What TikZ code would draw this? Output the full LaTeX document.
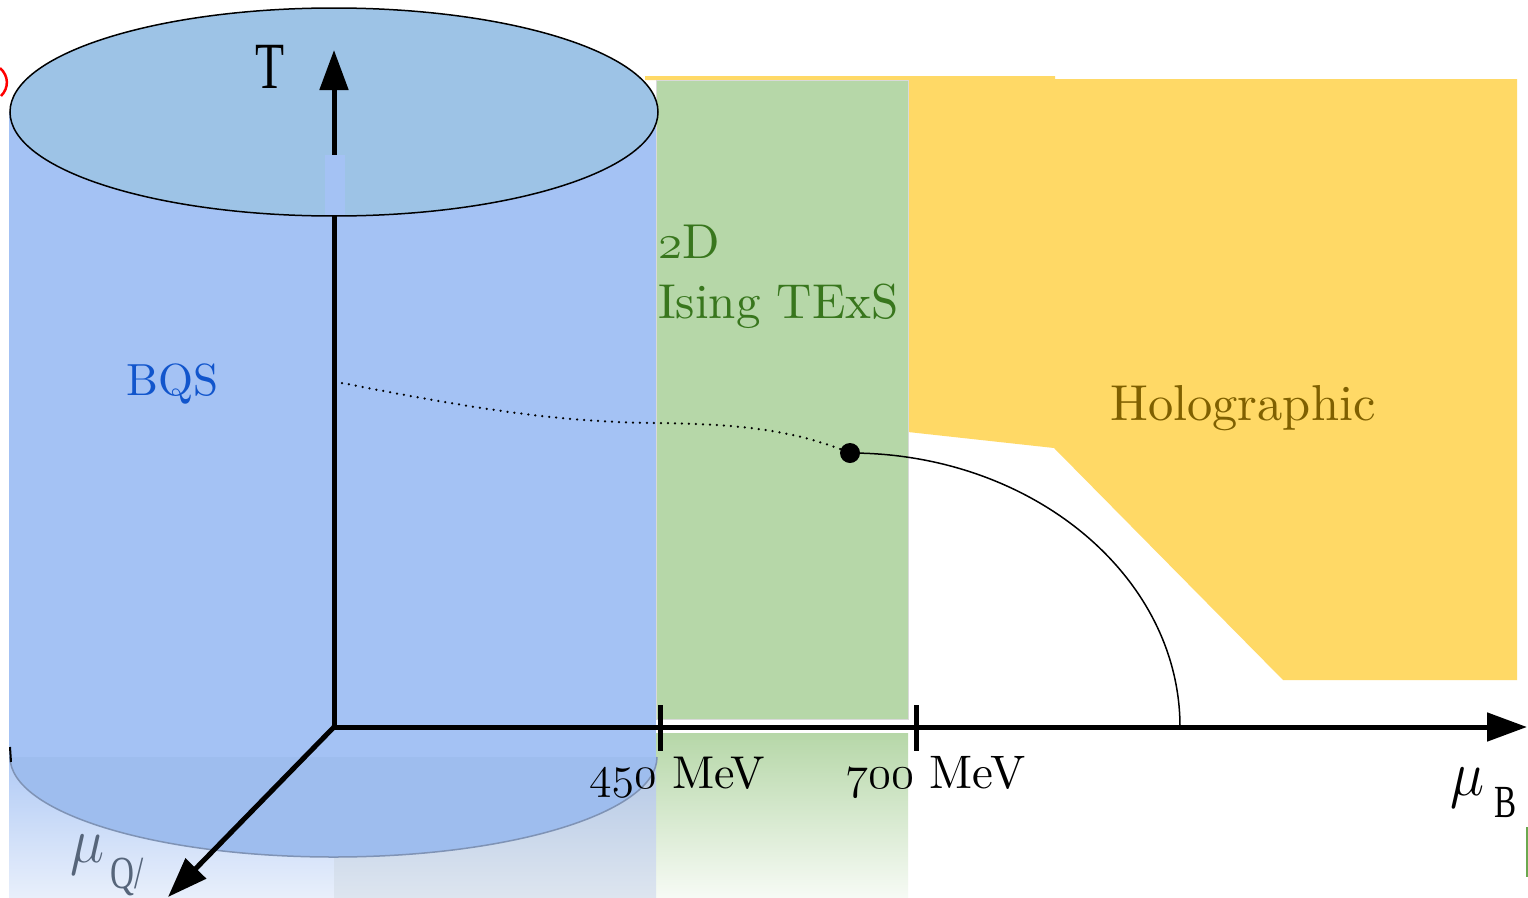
\RequirePackage{fix-cm}
\documentclass[tikz,border=0pt]{standalone}
\usepackage{fontspec}
\newfontfamily\tms{Liberation Serif}
\newfontfamily\lmten[Extension=.otf]{lmroman10-regular}
\usetikzlibrary{arrows.meta}
\definecolor{topblue}{HTML}{9DC3E6}
\definecolor{cylblue}{HTML}{A4C2F4}
\definecolor{lowblue}{HTML}{9EBDEE}
\definecolor{isgreen}{HTML}{B6D7A8}
\definecolor{holo}{HTML}{FFD966}
\definecolor{holotext}{HTML}{7F6000}
\definecolor{greentext}{HTML}{38761D}
\definecolor{bqstext}{HTML}{1155CC}
\definecolor{fadeL}{HTML}{E8EFFB}
\definecolor{fadeR}{HTML}{DDE5EF}
\definecolor{fadeRtop}{HTML}{B4C8E6}
\definecolor{rimgray}{HTML}{7F93B5}
\definecolor{mugray}{HTML}{56657A}
\definecolor{greenmark}{HTML}{6AA84F}
\newcommand{\osn}[1]{$\mathnormal{#1}$}
\tikzset{
  axisline/.style={line width=5pt, line join=miter},
  tip/.tip={Triangle[length=40pt,width=28pt]},
  tickline/.style={line width=5pt},
  lbl/.style={inner sep=0pt, anchor=base west, font=\lmten\fontsize{46}{50}\selectfont},
  region/.style={inner sep=0pt, anchor=base west, font=\lmten\fontsize{49}{56}\selectfont},
  timesl/.style={inner sep=0pt, anchor=base west, xscale=0.72, font=\tms\fontsize{46}{46}\selectfont},
  mul/.style={inner sep=0pt, anchor=base west, xscale=0.9, font=\fontsize{64}{64}\selectfont},
}
\begin{document}
\begin{tikzpicture}[x=1pt,y=-1pt]
\fill[white] (0,0) rectangle (1528,897);
\useasboundingbox (0,0) rectangle (1528,897);
% holographic region
\fill[holo] (645,76) -- (1055,76) -- (1055,79) -- (1517,79) -- (1517,680) -- (1283,680)
  -- (1054,448) -- (908,432) -- (908,80) -- (645,80) -- cycle;
% Ising region
\fill[isgreen, draw=black!15, line width=1pt] (656,80) rectangle (908,719);
\shade[top color=isgreen, bottom color=isgreen!12] (656,733) rectangle (908,897);
% cylinder body
\fill[cylblue] (9,112) rectangle (656,760);
\shade[top color=cylblue!85!white, bottom color=fadeL] (9,760) rectangle (334,897);
\shade[top color=fadeRtop, bottom color=fadeR] (334,760) rectangle (656,897);
\filldraw[fill=lowblue, draw=rimgray, line width=1.5pt] (657,757) arc[start angle=0, end angle=180, x radius=323.5, y radius=100];
\draw[line width=2pt] (10,747) -- (11,762);
% top ellipse
\fill[topblue] (334,112) ellipse[x radius=324, y radius=104];
% axes
\coordinate (O) at (334,727);
\coordinate (Ttip) at (334,50);
\coordinate (Btip) at (1527,727);
\coordinate (Qtip) at (168,897);
\draw[axisline, -tip] (O) -- (Qtip);
\draw[axisline, tip-tip] (Ttip) -- (O) -- (Btip);
\fill[cylblue] (325,155) rectangle (345,215);
\draw[line width=1.5pt] (334,112) ellipse[x radius=324, y radius=104];
% ticks
\coordinate (t450a) at (660,705); \coordinate (t450b) at (660,751);
\coordinate (t700a) at (916,705); \coordinate (t700b) at (916,751);
\draw[tickline] (t450a) -- (t450b);
\draw[tickline] (t700a) -- (t700b);
% critical point and lines
\node[circle, fill=black, inner sep=0pt, minimum size=20pt] (cp) at (850,453) {};
\coordinate (xo) at (342,383);
\coordinate (xend) at (1180,727);
\draw[line width=2.5pt, line cap=round, dash pattern=on 0pt off 7pt] (xo) .. controls (480,410) and (560,422) .. (656,423) .. controls (730,424) and (790,428) .. (cp.center);
\draw[line width=1.5pt] (cp.center) .. controls (1032,453) and (1180,576) .. (xend);
% stray marks
\draw[red, line width=2.5pt] (0,68) .. controls (9,76) and (9,88) .. (1,96);
\draw[greenmark, line width=2pt] (1527,827) -- (1527,877);
% texts
\node[region, text=bqstext, font=\lmten\fontsize{45}{50}\selectfont] (bqs) at (126,395) {BQS};
\node[region, text=greentext] (twoD) at (658,258) {\osn{2}D};
\node[region, text=greentext] (ising) at (658,318) {Ising TExS};
\node[region, text=holotext, font=\lmten\fontsize{50.5}{56}\selectfont] (holotxt) at (1110,420) {Holographic};
\node[lbl] (l450) at (589,788) {\osn{450} MeV};
\node[lbl, font=\lmten\fontsize{47}{50}\selectfont] (l700) at (845,788) {\osn{700} MeV};
\node[timesl, anchor=base, font=\tms\fontsize{66}{66}\selectfont] (Tl) at (270,88) {T};
\node[mul] (mub) at (1450,795) {$\mu$};
\node[timesl] (Bl) at (1494,817) {B};
\node[mul, text=mugray] (muq) at (70,862) {$\mu$};
\node[timesl, text=mugray] (Ql) at (110,888) {Q/};
\end{tikzpicture}
\end{document}
